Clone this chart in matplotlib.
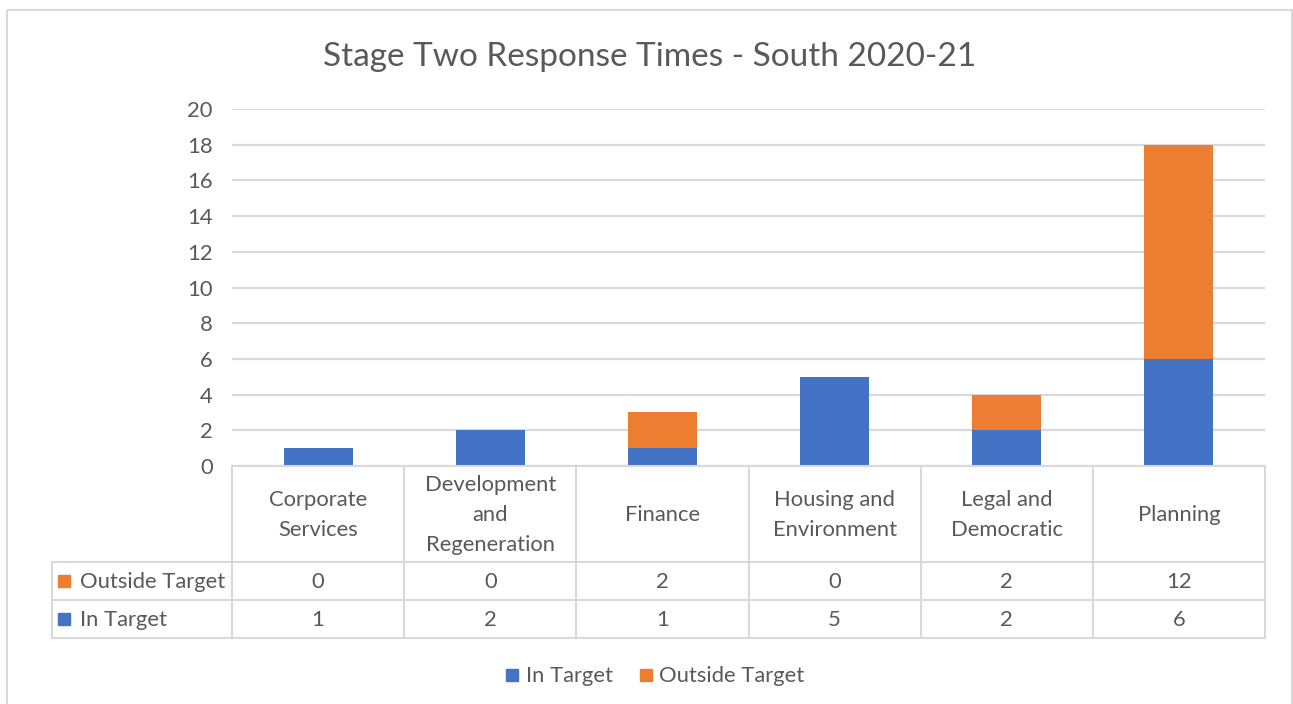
import numpy as np
import matplotlib.pyplot as plt
from matplotlib.patches import Rectangle

# chart data
categories = ["Corporate\nServices", "Development\nand\nRegeneration", "Finance",
              "Housing and\nEnvironment", "Legal and\nDemocratic", "Planning"]
in_target = [1, 2, 1, 5, 2, 6]
outside_target = [0, 0, 2, 0, 2, 12]
y_ticks = [0, 2, 4, 6, 8, 10, 12, 14, 16, 18, 20]

blue = "#4472C4"
orange = "#ED7D31"
text_col = "#595959"
line_col = "#D9D9D9"

plt.rcParams['font.family'] = ['Lato', 'DejaVu Sans']
fs = 15.8

W, H = 1293, 704
fig = plt.figure(figsize=(W / 100, H / 100), dpi=100)

# pixel helper for fig coords
def fx(px):
    return px / W

def fy(py):
    return 1 - py / H

# main bar axes
left, right, top, bottom = 232, 1265, 109, 466
ax = fig.add_axes([fx(left), fy(bottom), fx(right - left), (bottom - top) / H])
x = np.arange(len(categories))
ax.bar(x, in_target, width=0.4, color=blue, zorder=3)
ax.bar(x, outside_target, width=0.4, bottom=in_target, color=orange, zorder=3)
ax.set_xlim(-0.5, len(categories) - 0.5)
ax.set_ylim(0, 20)
ax.set_yticks(y_ticks)
ax.set_yticklabels([str(v) for v in y_ticks], fontsize=fs, color=text_col)
ax.set_xticks([])
ax.tick_params(axis='y', length=0, pad=14)
ax.grid(axis='y', color=line_col, linewidth=1.6, zorder=0)
for s in ax.spines.values():
    s.set_visible(False)

# overlay for border
ov = fig.add_axes([0, 0, 1, 1], zorder=-1)
ov.set_xlim(0, W)
ov.set_ylim(H, 0)
ov.axis('off')
ov.add_patch(Rectangle((7, 10), 1285, 700, fill=False, edgecolor=line_col, linewidth=1.5))

# overlay for table, legend, title
ov2 = fig.add_axes([0, 0, 1, 1])
ov2.set_xlim(0, W)
ov2.set_ylim(H, 0)
ov2.axis('off')

col_w = (right - left) / len(categories)
row_tops = [466, 562, 600, 638]
lw = 1.5
ov2.plot([left, right], [466, 466], color=line_col, lw=lw)
for yy in row_tops[1:]:
    ov2.plot([52, right], [yy, yy], color=line_col, lw=lw)
ov2.plot([52, 52], [562, 638], color=line_col, lw=lw)
for i in range(len(categories) + 1):
    xx = left + i * col_w
    ov2.plot([xx, xx], [466, 638], color=line_col, lw=lw)

for i, cat in enumerate(categories):
    cx = left + (i + 0.5) * col_w
    ov2.text(cx, 515, cat, ha='center', va='center', fontsize=fs,
             color=text_col, linespacing=1.6)
    ov2.text(cx, 582, str(outside_target[i]), ha='center', va='center',
             fontsize=fs, color=text_col)
    ov2.text(cx, 620, str(in_target[i]), ha='center', va='center',
             fontsize=fs, color=text_col)

# row headers with legend keys
for yy, lab, col in [(582, "Outside Target", orange), (620, "In Target", blue)]:
    ov2.add_patch(Rectangle((58, yy - 7), 12, 12, color=col))
    ov2.text(80, yy, lab, ha='left', va='center', fontsize=fs, color=text_col)

# bottom legend
ov2.add_patch(Rectangle((506, 669), 12, 12, color=blue))
ov2.text(526, 676, "In Target", ha='left', va='center', fontsize=fs, color=text_col)
ov2.add_patch(Rectangle((640, 669), 12, 12, color=orange))
ov2.text(659, 676, "Outside Target", ha='left', va='center', fontsize=fs, color=text_col)

# title
ov2.text(650, 57, "Stage Two Response Times - South 2020-21", ha='center', va='center',
         fontsize=24, color=text_col)

fig.savefig("out.png", dpi=100)
